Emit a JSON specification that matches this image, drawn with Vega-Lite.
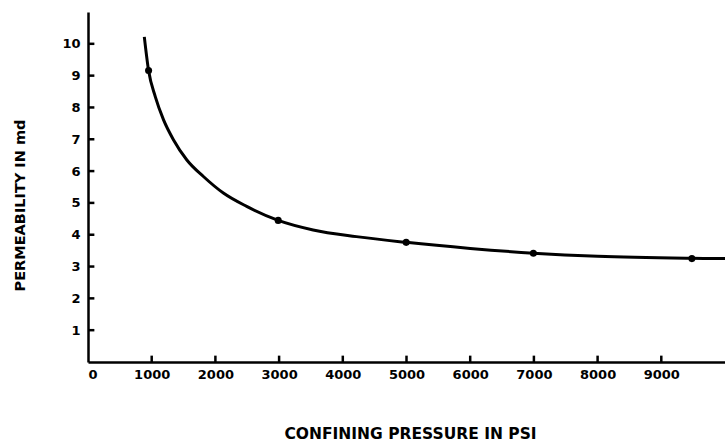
{
  "$schema": "https://vega.github.io/schema/vega-lite/v6.json",
  "width": 637,
  "height": 350,
  "autosize": {"type": "none"},
  "padding": {"left": 88, "top": 12, "right": 0, "bottom": 80},
  "background": "white",
  "config": {
    "view": {"stroke": null},
    "font": "DejaVu Sans",
    "axis": {
      "domainColor": "black",
      "domainWidth": 2.5,
      "ticks": false,
      "grid": false,
      "labelOverlap": false,
      "labelColor": "black",
      "labelFont": "DejaVu Sans",
      "labelFontWeight": "bold",
      "labelFontSize": 13,
      "titleColor": "black",
      "titleFont": "DejaVu Sans",
      "titleFontWeight": "bold",
      "titleFontSize": 15.5
    }
  },
  "datasets": {
    "curve": [
      {"pressure": 884, "permeability": 10.22},
      {"pressure": 951, "permeability": 9.16},
      {"pressure": 1056, "permeability": 8.34},
      {"pressure": 1186, "permeability": 7.61},
      {"pressure": 1343, "permeability": 6.98},
      {"pressure": 1552, "permeability": 6.35},
      {"pressure": 1812, "permeability": 5.83},
      {"pressure": 2125, "permeability": 5.31},
      {"pressure": 2491, "permeability": 4.89},
      {"pressure": 2986, "permeability": 4.45},
      {"pressure": 3534, "permeability": 4.15},
      {"pressure": 4213, "permeability": 3.94},
      {"pressure": 4995, "permeability": 3.76},
      {"pressure": 6000, "permeability": 3.57},
      {"pressure": 6992, "permeability": 3.42},
      {"pressure": 8000, "permeability": 3.32},
      {"pressure": 9480, "permeability": 3.26},
      {"pressure": 10000, "permeability": 3.25}
    ],
    "measured": [
      {"pressure": 951, "permeability": 9.16},
      {"pressure": 2986, "permeability": 4.45},
      {"pressure": 4995, "permeability": 3.76},
      {"pressure": 6992, "permeability": 3.42},
      {"pressure": 9480, "permeability": 3.25}
    ],
    "pressureTicks": [
      {"pressure": 1000}, {"pressure": 2000}, {"pressure": 3000},
      {"pressure": 4000}, {"pressure": 5000}, {"pressure": 6000},
      {"pressure": 7000}, {"pressure": 8000}, {"pressure": 9000}
    ],
    "permeabilityTicks": [
      {"permeability": 1}, {"permeability": 2}, {"permeability": 3},
      {"permeability": 4}, {"permeability": 5}, {"permeability": 6},
      {"permeability": 7}, {"permeability": 8}, {"permeability": 9},
      {"permeability": 10}
    ]
  },
  "layer": [
    {
      "data": {"name": "curve"},
      "mark": {"type": "line", "interpolate": "monotone", "color": "black", "strokeWidth": 3, "clip": true},
      "encoding": {
        "x": {
          "field": "pressure",
          "type": "quantitative",
          "scale": {"domain": [0, 10000], "nice": false, "zero": true},
          "axis": {
            "values": [0, 1000, 2000, 3000, 4000, 5000, 6000, 7000, 8000, 9000],
            "format": "d", "labelOverlap": false, "labelPadding": 6,
            "title": "CONFINING PRESSURE IN PSI",
            "titleX": 322, "titleY": 71, "titleBaseline": "middle"
          }
        },
        "y": {
          "field": "permeability",
          "type": "quantitative",
          "scale": {"domain": [0, 11], "nice": false},
          "axis": {
            "values": [1, 2, 3, 4, 5, 6, 7, 8, 9, 10],
            "labelOverlap": false, "labelPadding": 8,
            "title": "PERMEABILITY IN md", "titleFontSize": 14.5,
            "titleX": -68, "titleY": 193, "titleAngle": -90, "titleBaseline": "middle"
          }
        }
      }
    },
    {
      "data": {"name": "measured"},
      "mark": {"type": "point", "filled": true, "color": "black", "size": 50, "opacity": 1},
      "encoding": {
        "x": {
          "field": "pressure", "type": "quantitative",
          "axis": {
            "values": [0, 1000, 2000, 3000, 4000, 5000, 6000, 7000, 8000, 9000],
            "format": "d", "labelOverlap": false, "labelPadding": 6,
            "title": "CONFINING PRESSURE IN PSI",
            "titleX": 322, "titleY": 71, "titleBaseline": "middle"
          }
        },
        "y": {
          "field": "permeability", "type": "quantitative",
          "axis": {
            "values": [1, 2, 3, 4, 5, 6, 7, 8, 9, 10],
            "labelOverlap": false, "labelPadding": 8,
            "title": "PERMEABILITY IN md", "titleFontSize": 14.5,
            "titleX": -68, "titleY": 193, "titleAngle": -90, "titleBaseline": "middle"
          }
        }
      }
    },
    {
      "data": {"name": "pressureTicks"},
      "mark": {"type": "rule", "color": "black", "strokeWidth": 2.5},
      "encoding": {
        "x": {
          "field": "pressure", "type": "quantitative",
          "axis": {
            "values": [0, 1000, 2000, 3000, 4000, 5000, 6000, 7000, 8000, 9000],
            "format": "d", "labelOverlap": false, "labelPadding": 6,
            "title": "CONFINING PRESSURE IN PSI",
            "titleX": 322, "titleY": 71, "titleBaseline": "middle"
          }
        },
        "y": {
          "datum": 0,
          "axis": {
            "values": [1, 2, 3, 4, 5, 6, 7, 8, 9, 10],
            "labelOverlap": false, "labelPadding": 8,
            "title": "PERMEABILITY IN md", "titleFontSize": 14.5,
            "titleX": -68, "titleY": 193, "titleAngle": -90, "titleBaseline": "middle"
          }
        },
        "y2": {"datum": 0.2}
      }
    },
    {
      "data": {"name": "permeabilityTicks"},
      "mark": {"type": "rule", "color": "black", "strokeWidth": 2.5},
      "encoding": {
        "y": {
          "field": "permeability", "type": "quantitative",
          "axis": {
            "values": [1, 2, 3, 4, 5, 6, 7, 8, 9, 10],
            "labelOverlap": false, "labelPadding": 8,
            "title": "PERMEABILITY IN md", "titleFontSize": 14.5,
            "titleX": -68, "titleY": 193, "titleAngle": -90, "titleBaseline": "middle"
          }
        },
        "x": {
          "datum": 0,
          "axis": {
            "values": [0, 1000, 2000, 3000, 4000, 5000, 6000, 7000, 8000, 9000],
            "format": "d", "labelOverlap": false, "labelPadding": 6,
            "title": "CONFINING PRESSURE IN PSI",
            "titleX": 322, "titleY": 71, "titleBaseline": "middle"
          }
        },
        "x2": {"datum": 100}
      }
    }
  ]
}
